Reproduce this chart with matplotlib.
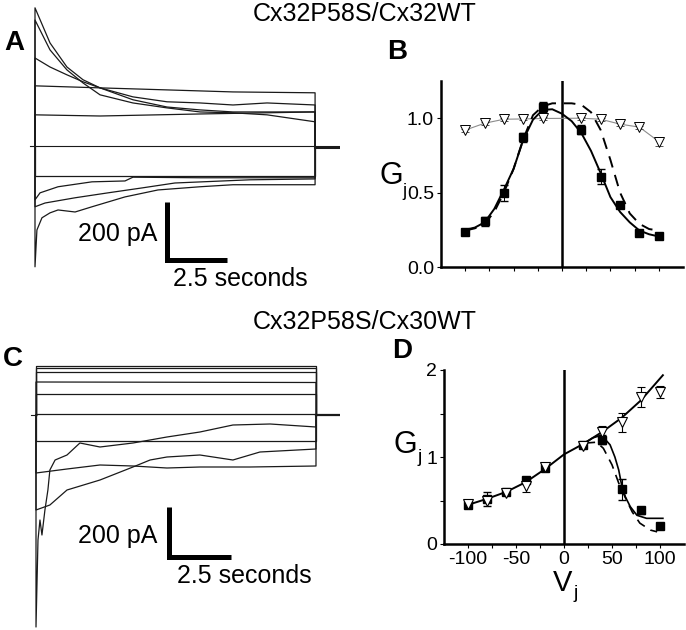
import matplotlib
matplotlib.use("Agg")
import matplotlib.pyplot as plt

plt.rcParams['font.family'] = ['Liberation Sans', 'DejaVu Sans']

W, H = 686, 630

# ---------------- panel A traces (time s, current pA) ----------------
a_t11 = [0, 0.625, 1.33, 2.0, 2.71, 4.08, 5.5, 6.875, 8.25, 9.67, 11.67]
a_d1 = [476, 355, 272, 228, 200, 169, 152, 148, 141, 148, 141]
a_d2 = [434, 331, 262, 217, 176, 148, 131, 117, 114, 107, 83]
a_d3 = [303, 272, 245, 221, 200, 159, 134, 124, 117, 117, 117]
a_f1_t = [0, 2.71, 5.5, 8.25, 11.67]
a_f1 = [207, 200, 193, 186, 183]
a_f0_t = [0, 2.71, 6.875, 11.67]
a_f0 = [107, 103, 110, 117]
a_n0_t = [0, 11.67]
a_n0 = [-103, -103]
a_n1_t = [0, 0.21, 0.96, 2.375, 3.75, 4.08, 6.875, 11.67]
a_n1 = [-186, -162, -141, -124, -121, -108, -110, -110]
a_n2_t = [0, 0.42, 1.67, 3.04, 4.46, 5.83, 8.96, 11.67]
a_n2 = [-210, -197, -179, -162, -145, -128, -117, -114]
a_n3_t = [0, 0.08, 0.29, 0.625, 0.96, 1.67, 2.375, 3.75, 5.125, 6.875, 8.25, 11.67]
a_n3 = [-417, -290, -248, -231, -221, -228, -210, -176, -152, -141, -134, -134]
a_end = 11.67

# ---------------- panel C traces ----------------
c_u_t = [0, 11.29]
c_u1 = [198, 198]
c_u2 = [190, 190]
c_u3 = [172, 172]
c_u4 = [132, 130]
c_u5 = [84, 84]
c_z = [4, 4]
c_l0 = [-104, -104]
c_l1_t = [0, 0.08, 0.16, 0.24, 0.36, 0.48, 0.56, 0.77, 1.25, 1.77, 2.58, 3.91, 5.28, 6.61, 7.94, 9.44, 11.29]
c_l1 = [-848, -500, -420, -480, -380, -300, -220, -180, -160, -112, -128, -112, -88, -68, -40, -36, -48]
c_l2_t = [0, 0.56, 1.25, 2.58, 3.91, 4.6, 5.28, 6.61, 7.94, 9.03, 11.29]
c_l2 = [-380, -360, -300, -260, -208, -180, -168, -160, -180, -148, -136]
c_l3_t = [0, 1.25, 2.58, 3.91, 5.28, 6.61, 8.63, 11.29]
c_l3 = [-232, -216, -200, -204, -212, -208, -208, -204]
c_end = 11.29

# ---------------- panel B: Gj-Vj, Cx32P58S/Cx32WT ----------------
vj = [-100, -80, -60, -40, -20, 20, 40, 60, 80, 100]
b_sq = [0.235, 0.306, 0.497, 0.872, 1.074, 0.922, 0.608, 0.414, 0.228, 0.206]
b_sq_err = [0.01, 0.03, 0.055, 0.03, 0.035, 0.03, 0.05, 0.02, 0.01, 0.01]
b_tri = [0.92, 0.966, 0.993, 0.995, 0.998, 1.0, 0.993, 0.96, 0.94, 0.843]
b_tri_err = [0.01, 0.01, 0.01, 0.01, 0.01, 0.01, 0.01, 0.01, 0.01, 0.03]
b_fit_v = [-100, -90, -80, -70, -60, -50, -40, -30, -20, -10, 0, 10, 20, 30, 40, 50, 60, 70, 80, 90, 100]
b_fit_solid = [0.25, 0.265, 0.30, 0.39, 0.52, 0.66, 0.855, 0.99, 1.056, 1.06, 1.03, 0.98, 0.90, 0.78, 0.63, 0.47, 0.37, 0.30, 0.245, 0.22, 0.205]
b_fit_dash = [0.245, 0.26, 0.29, 0.37, 0.50, 0.66, 0.86, 1.02, 1.08, 1.10, 1.10, 1.10, 1.09, 1.04, 0.92, 0.72, 0.50, 0.36, 0.29, 0.255, 0.245]

# ---------------- panel D: Gj-Vj, Cx32P58S/Cx30WT ----------------
d_sq = [0.45, 0.52, 0.60, 0.74, 0.87, 1.14, 1.20, 0.63, 0.39, 0.21]
d_sq_err = [0.02, 0.08, 0.02, 0.03, 0.02, 0.02, 0.05, 0.12, 0.04, 0.02]
d_tri = [0.46, 0.50, 0.59, 0.67, 0.88, 1.13, 1.29, 1.40, 1.69, 1.75]
d_tri_err = [0.02, 0.02, 0.03, 0.07, 0.02, 0.02, 0.07, 0.11, 0.12, 0.07]
d_line_v = [-100, -80, -60, -40, -20, 0, 20, 40, 60, 80, 103]
d_line_g = [0.45, 0.52, 0.60, 0.71, 0.86, 1.03, 1.15, 1.29, 1.45, 1.65, 1.94]
d_fit_v = [20, 30, 39, 48, 53, 57, 60, 64, 69, 76, 86, 103]
d_fit_g = [1.15, 1.22, 1.25, 1.14, 1.00, 0.85, 0.68, 0.54, 0.43, 0.33, 0.295, 0.295]
d_dash_v = [22, 34, 41, 50, 57, 64, 71, 79, 90, 97]
d_dash_g = [1.16, 1.17, 1.10, 0.91, 0.70, 0.53, 0.37, 0.24, 0.16, 0.14]


def rect(x0, y0, x1, y1):
    return [x0 / W, 1 - y1 / H, (x1 - x0) / W, (y1 - y0) / H]


def ftext(x, y, s, **kw):
    fig.text(x / W, 1 - y / H, s, **kw)


def trace(ax, t, i, end, lw=0.9):
    ax.plot([0] + list(t) + [end, end], [0] + list(i) + [i[-1], 0],
            color='#1a1a1a', lw=lw, solid_joinstyle='round')


fig = plt.figure(figsize=(W / 100, H / 100), dpi=100)

# ---- A ----
axA = fig.add_axes(rect(0, 0, 340, 290))
axA.set_xlim(-35 / 24, 305 / 24)
axA.set_ylim(-497, 503)
axA.axis('off')
for t, i in [(a_t11, a_d1), (a_t11, a_d2), (a_t11, a_d3), (a_f1_t, a_f1),
             (a_f0_t, a_f0), (a_n0_t, a_n0), (a_n1_t, a_n1), (a_n2_t, a_n2),
             (a_n3_t, a_n3)]:
    trace(axA, t, i, a_end)
axA.plot([-0.2, a_end], [0, 0], color='#1a1a1a', lw=0.8)
axA.plot([a_end, 12.71], [-3, -3], color='#1a1a1a', lw=2.2)
axA.plot([5.5, 5.5, 8.0], [-193, -393, -393], color='black', lw=3.6,
         solid_joinstyle='miter', solid_capstyle='butt')
axA.text(5.08, -305, '200 pA', ha='right', va='center', fontsize=18)
axA.text(5.75, -458, '2.5 seconds', ha='left', va='center', fontsize=18)

# ---- C ----
axC = fig.add_axes(rect(0, 300, 340, 630))
axC.set_xlim(-36 / 24.8, 304 / 24.8)
axC.set_ylim(-860, 460)
axC.axis('off')
for i in [c_u1, c_u2, c_u3, c_u4, c_u5, c_z, c_l0]:
    trace(axC, c_u_t, i, c_end)
for t, i in [(c_l1_t, c_l1), (c_l2_t, c_l2), (c_l3_t, c_l3)]:
    trace(axC, t, i, c_end)
axC.plot([-0.2, 0], [0, 0], color='#1a1a1a', lw=0.8)
axC.plot([c_end, 12.26], [0, 0], color='#1a1a1a', lw=1.6)
axC.plot([5.36, 5.36, 7.86], [-368, -568, -568], color='black', lw=3.6,
         solid_joinstyle='miter', solid_capstyle='butt')
axC.text(4.88, -484, '200 pA', ha='right', va='center', fontsize=18)
axC.text(5.69, -644, '2.5 seconds', ha='left', va='center', fontsize=18)


def gv_axes(ax, ymax):
    ax.set_xlim(-125, 125)
    ax.set_ylim(0, ymax)
    for s in ['top', 'right']:
        ax.spines[s].set_visible(False)
    for s in ['left', 'bottom']:
        ax.spines[s].set_linewidth(1.8)
    ax.axvline(0, color='black', lw=1.8)
    ax.set_xticks([-100, -50, 0, 50, 100])
    ax.set_xticks([-75, -25, 25, 75], minor=True)
    ax.tick_params(which='both', direction='out', length=3, width=0.8, labelsize=14, pad=2)
    ax.patch.set_alpha(0)


# ---- B ----
axB = fig.add_axes(rect(441, 81, 683, 267))
gv_axes(axB, 1.25)
axB.set_yticks([0, 0.5, 1.0])
axB.set_yticklabels(['0.0', '0.5', '1.0'])
axB.set_xticklabels([])
axB.plot(vj, b_tri, color='#8c8c8c', lw=0.8, zorder=2)
axB.plot(b_fit_v, b_fit_solid, color='black', lw=1.4, zorder=3)
axB.plot(b_fit_v, b_fit_dash, color='black', lw=1.4, ls=(0, (6, 4)), zorder=3)
axB.errorbar(vj, b_tri, yerr=b_tri_err, fmt='v', ms=7, mfc='white', mec='black',
             mew=0.7, ecolor='#555555', elinewidth=0.7, capsize=3, zorder=4)
axB.errorbar(vj, b_sq, yerr=b_sq_err, fmt='s', ms=6, color='black',
             ecolor='black', elinewidth=0.7, capsize=3, zorder=5)

# ---- D ----
axD = fig.add_axes(rect(444, 370, 684, 544))
gv_axes(axD, 2.0)
axD.set_yticks([0, 1, 2])
axD.set_yticks([0.5, 1.5], minor=True)
axD.set_xticklabels(['-100', '-50', '0', '50', '100'])
axD.plot(d_line_v, d_line_g, color='black', lw=1.4, zorder=3)
axD.plot(d_fit_v, d_fit_g, color='black', lw=1.2, zorder=3)
axD.plot(d_dash_v, d_dash_g, color='black', lw=1.2, ls=(0, (6, 4)), zorder=3)
axD.errorbar(vj, d_sq, yerr=d_sq_err, fmt='s', ms=6, color='black',
             ecolor='black', elinewidth=0.8, capsize=3, zorder=4)
axD.errorbar(vj, d_tri, yerr=d_tri_err, fmt='v', ms=7, mfc='white', mec='black',
             mew=0.8, ecolor='black', elinewidth=0.8, capsize=3, zorder=5)

# ---- titles, letters, axis labels ----
ftext(365, 14, 'Cx32P58S/Cx32WT', ha='center', va='center', fontsize=18)
ftext(365, 322, 'Cx32P58S/Cx30WT', ha='center', va='center', fontsize=18)
for s, x, y in [('A', 14, 43), ('B', 397, 52), ('C', 13, 359), ('D', 402, 351)]:
    ftext(x, y, s, ha='center', va='center', fontsize=20, fontweight='bold')
ftext(391, 176, 'G', ha='center', va='center', fontsize=22)
ftext(404, 191, 'j', ha='center', va='center', fontsize=13)
ftext(405, 445, 'G', ha='center', va='center', fontsize=22)
ftext(420, 458, 'j', ha='center', va='center', fontsize=14)
ftext(563, 583, 'V', ha='center', va='center', fontsize=21)
ftext(576, 593, 'j', ha='center', va='center', fontsize=14)

fig.savefig('out.png', dpi=100)
